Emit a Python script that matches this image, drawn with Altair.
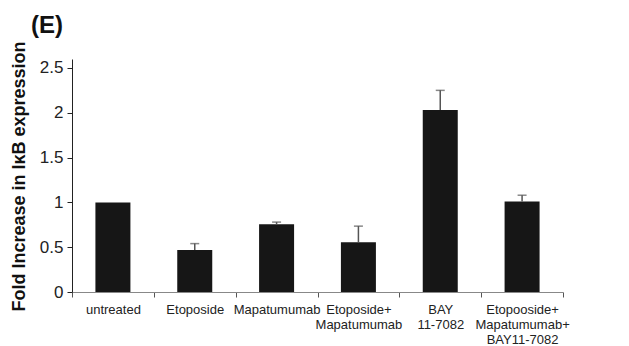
import altair as alt
import pandas as pd

categories = ["untreated", "Etoposide", "Mapatumumab", "Etoposide+|Mapatumumab",
              "BAY|11-7082", "Etopooside+|Mapatumumab+|BAY11-7082"]
values = [1.0, 0.47, 0.755, 0.555, 2.03, 1.01]
errors = [0.0, 0.07, 0.025, 0.18, 0.22, 0.07]

df = pd.DataFrame({"cat": categories, "value": values, "err": errors})
df["top"] = df["value"] + df["err"]

FONT = "Liberation Sans"

x = alt.X("cat:N", sort=categories, title=None,
          scale=alt.Scale(paddingInner=0, paddingOuter=0),
          axis=alt.Axis(labelAngle=0, tickBand="extent", labelExpr="split(datum.label, '|')",
                        labelFont=FONT, labelFontSize=13, labelColor="#222",
                        labelPadding=6, tickSize=5, tickColor="#555", domainColor="#888",
                        labelLineHeight=15, labelBaseline="top"))
y = alt.Y("value:Q", scale=alt.Scale(domain=[0, 2.5]),
          axis=alt.Axis(values=[0, 0.5, 1, 1.5, 2, 2.5], grid=False, format="~g",
                        labelFont=FONT, labelFontSize=17, labelColor="#222",
                        tickSize=5, labelPadding=4, tickColor="#222", domainColor="#222",
                        title="Fold Increase in IκB expression", titleFont=FONT,
                        titleFontSize=18, titleFontWeight="bold", titleColor="#111",
                        titleX=-53, titleY=117, titleAngle=270, titleAlign="center",
                        titleBaseline="middle"))

base = alt.Chart(df)
bars = base.mark_bar(size=35, color="#161616").encode(x=x, y=y)
err_rule = base.transform_filter("datum.err > 0").mark_rule(color="#555", strokeWidth=1.5).encode(
    x=alt.X("cat:N", sort=categories), y="value:Q", y2="top:Q")
err_cap = base.transform_filter("datum.err > 0").mark_tick(color="#555", size=9, thickness=1.5,
                                                             orient="horizontal").encode(
    x=alt.X("cat:N", sort=categories), y="top:Q")
label = alt.Chart(pd.DataFrame({"t": ["(E)"]})).mark_text(
    text="(E)", font=FONT, fontSize=24, fontWeight="bold", align="left", baseline="alphabetic",
    color="#111").encode(x=alt.value(-41), y=alt.value(-26))

chart = alt.layer(bars, err_rule, err_cap, label).properties(
    width=491, height=233,
    autosize=alt.AutoSizeParams(type="none"),
    padding={"left": 72, "top": 59, "right": 66, "bottom": 54},
).configure_view(stroke=None)

chart.save("out.html", embed_options={"renderer": "svg", "actions": False})
